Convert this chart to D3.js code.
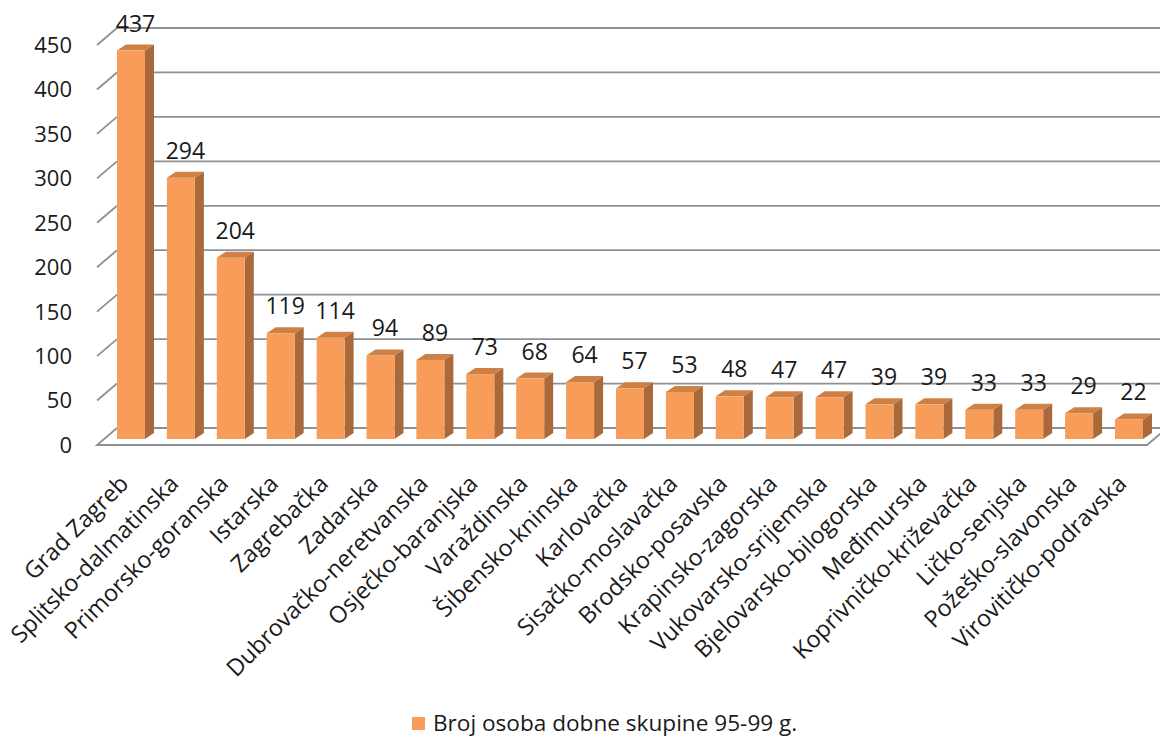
<!DOCTYPE html>
<html>
<head>
<meta charset="utf-8">
<script src="https://cdn.jsdelivr.net/npm/d3@7"></script>
<style>
  html, body { margin: 0; padding: 0; background: #fff; }
  svg { display: block; }
  text { font-family: "Open Sans", "DejaVu Sans", sans-serif; fill: #1a1a1a; }
</style>
</head>
<body>
<svg id="chart" width="1160" height="737"></svg>
<script>
// Broj osoba dobne skupine 95-99 g. po županijama
const counties = [
  "Grad Zagreb", "Splitsko-dalmatinska", "Primorsko-goranska", "Istarska",
  "Zagrebačka", "Zadarska", "Dubrovačko-neretvanska", "Osječko-baranjska",
  "Varaždinska", "Šibensko-kninska", "Karlovačka", "Sisačko-moslavačka",
  "Brodsko-posavska", "Krapinsko-zagorska", "Vukovarsko-srijemska",
  "Bjelovarsko-bilogorska", "Međimurska", "Koprivničko-križevačka",
  "Ličko-senjska", "Požeško-slavonska", "Virovitičko-podravska"
];
const persons = [437, 294, 204, 119, 114, 94, 89, 73, 68, 64, 57, 53, 48, 47, 47, 39, 39, 33, 33, 29, 22];
const yTicks = [0, 50, 100, 150, 200, 250, 300, 350, 400, 450];
const seriesName = "Broj osoba dobne skupine 95-99 g.";

const svg = d3.select("#chart");

// Plot geometry (front floor edge and the depth of the 3D box)
const floorFront = 445;     // y of value 0 on the front edge
const xFront0 = 97, xFront1 = 1147;
const depthX = 20, depthY = -17;   // offset from front edge to back wall
const barBase = 439;               // bars stand partway into the floor
const barDX = 9, barDY = -6;       // bar depth offset

const y = d3.scaleLinear().domain([0, 450]).range([floorFront, floorFront - 400]);
const h = v => y(0) - y(v);

// 21 columns: step ~49.9 px, front face ~28 px wide
const step = 49.9, inner = 0.439;
const x = d3.scaleBand()
  .domain(counties)
  .range([117, 117 + step * (counties.length - inner)])
  .paddingInner(inner)
  .paddingOuter(0);

const gridColor = "#8d9196";

// Back-wall gridlines and left-wall diagonals
const grid = svg.append("g");
yTicks.forEach(t => {
  grid.append("line")
    .attr("x1", xFront0 + depthX).attr("x2", xFront1 + depthX)
    .attr("y1", y(t) + depthY).attr("y2", y(t) + depthY)
    .attr("stroke", gridColor).attr("stroke-width", 1.8);
  if (t > 0) {
    grid.append("line")
      .attr("x1", xFront0).attr("y1", y(t))
      .attr("x2", xFront0 + depthX).attr("y2", y(t) + depthY)
      .attr("stroke", gridColor).attr("stroke-width", 1.8);
  }
});

// Floor outline
grid.append("path")
  .attr("d", d3.line()([
    [xFront0 + depthX, y(0) + depthY],
    [xFront0, y(0)],
    [xFront1, y(0)],
    [xFront1 + depthX, y(0) + depthY]
  ]))
  .attr("fill", "none").attr("stroke", gridColor).attr("stroke-width", 1.8);

// Y axis tick labels
svg.append("g").selectAll("text").data(yTicks).join("text")
  .attr("x", 72).attr("y", d => y(d))
  .attr("dy", "0.36em")
  .attr("text-anchor", "end")
  .attr("font-size", 22)
  .text(d => d);

// 3D columns
const bars = svg.append("g").selectAll("g").data(counties).join("g");
const bw = x.bandwidth();

bars.append("path") // side face
  .attr("d", (c, i) => {
    const x1 = x(c) + bw, top = barBase - h(persons[i]);
    return d3.line()([[x1, barBase], [x1 + barDX, barBase + barDY], [x1 + barDX, top + barDY], [x1, top]]) + "Z";
  })
  .attr("fill", "#a9693a");

bars.append("path") // top face
  .attr("d", (c, i) => {
    const x0 = x(c), top = barBase - h(persons[i]);
    return d3.line()([[x0, top], [x0 + barDX, top + barDY], [x0 + bw + barDX, top + barDY], [x0 + bw, top]]) + "Z";
  })
  .attr("fill", "#cd8146");

bars.append("rect") // front face
  .attr("x", c => x(c))
  .attr("y", (c, i) => barBase - h(persons[i]))
  .attr("width", bw)
  .attr("height", (c, i) => h(persons[i]))
  .attr("fill", "#f79d59");

// Value labels above the columns
svg.append("g").selectAll("text").data(counties).join("text")
  .attr("x", c => x(c) + bw / 2 + barDX / 2)
  .attr("y", (c, i) => barBase - h(persons[i]) - 19)
  .attr("text-anchor", "middle")
  .attr("font-size", 23)
  .text((c, i) => persons[i]);

// Category labels, rotated
svg.append("g").selectAll("text").data(counties).join("text")
  .attr("transform", c => `translate(${x(c) + bw / 2 - 1},${485}) rotate(-45)`)
  .attr("text-anchor", "end")
  .attr("font-size", 23.4)
  .text(c => c);

// Legend
const legend = svg.append("g");
legend.append("rect")
  .attr("x", 412).attr("y", 717).attr("width", 13).attr("height", 13)
  .attr("fill", "#f79d59");
legend.append("text")
  .attr("x", 433).attr("y", 731)
  .attr("font-size", 22.6)
  .text(seriesName);
</script>
</body>
</html>
